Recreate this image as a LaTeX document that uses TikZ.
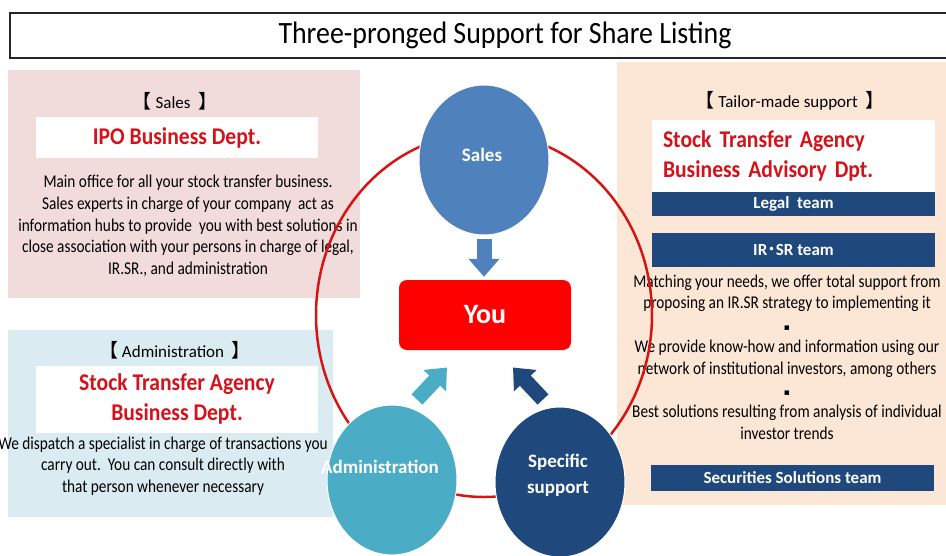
\documentclass[tikz,border=0pt]{standalone}
\usepackage{fontspec}
\setmainfont{Carlito}
\newfontfamily\narrowfont[FakeStretch=0.85]{Carlito}
\newfontfamily\titlefont[FakeStretch=0.9]{Carlito}
\newfontfamily\cjk{Noto Sans CJK JP}
\newfontfamily\symfont{DejaVu Sans}
\usetikzlibrary{shapes.geometric,arrows.meta}
\definecolor{pinkbg}{RGB}{241,219,219}
\definecolor{aquabg}{RGB}{218,236,242}
\definecolor{peachbg}{RGB}{252,231,215}
\definecolor{salesblue}{RGB}{79,129,189}
\definecolor{adminteal}{RGB}{75,172,198}
\definecolor{navy}{RGB}{31,73,125}
\definecolor{headred}{RGB}{212,18,28}
\definecolor{youred}{RGB}{255,0,0}
\definecolor{ringred}{RGB}{214,20,20}
\newcommand{\bracketed}[1]{{\cjk\fontsize{19}{19}\selectfont 【}\ #1\ \ {\cjk\fontsize{19}{19}\selectfont 】}}
\begin{document}
\begin{tikzpicture}[x=1pt,y=-1pt,
    bracket/.style={inner sep=0,font=\fontsize{17}{19}\selectfont},
    whitebox/.style={fill=white,inner sep=0,text=headred,font=\titlefont\bfseries\fontsize{24}{29.5}\selectfont},
    bodytext/.style={inner sep=0,align=center,font=\narrowfont\fontsize{18}{21.7}\selectfont},
    teambar/.style={fill=navy,inner sep=0,minimum width=283,text=white,font=\bfseries\fontsize{17}{18}\selectfont},
    bubble/.style={ellipse,draw=white,line width=1pt,minimum width=130,minimum height=150,inner sep=0},
    bubbletext/.style={inner sep=0,align=center,text=white,font=\bfseries\fontsize{19}{26}\selectfont},
    blockarrow/.style={line width=15pt,-{Triangle[width=30pt,length=18pt]}}]
\useasboundingbox (0,0) rectangle (946,555);
% panels
\fill[pinkbg] (8,70) rectangle (360,298);
\fill[aquabg] (8,330) rectangle (333,517);
\fill[peachbg] (617,62) rectangle (960,505);
\node[draw=black!85,line width=1.5pt,minimum width=990,minimum height=45,inner sep=0,
      font=\titlefont\fontsize{31}{32}\selectfont] (title) at (505,35.5) {Three-pronged Support for Share Listing};
% sales
\node[bracket] (saleshead) at (175,101) {\bracketed{Sales}};
\node[whitebox,minimum width=282,minimum height=41] (ipo) at (177,137.5) {IPO Business Dept.};
\node[bodytext] (salesbody) at (188,226) {Main office for all your stock transfer business.\\
  Sales experts in charge of your company\ \ act as\\
  information hubs to provide\ \ you with best solutions in\\
  close association with your persons in charge of legal,\\
  IR.SR., and administration};
% administration
\node[bracket] (adminhead) at (175,350) {\bracketed{Administration}};
\node[whitebox,minimum width=282,minimum height=67,align=center] (agency) at (177,399) {Stock Transfer Agency\\Business Dept.};
\node[bodytext] (adminbody) at (163,466) {We dispatch a specialist in charge of transactions you\\
  carry out.\ \ You can consult directly with\\
  that person whenever necessary};
% tailor-made
\node[bracket] (tailorhead) at (790,101) {\bracketed{Tailor-made support}};
\node[whitebox,minimum width=283,minimum height=72,text width=261,inner xsep=11,align=left] (advisory) at (793.5,156)
  {Stock Transfer Agency\\Business Advisory Dpt.};
\node[teambar,minimum height=24] (legal) at (793.5,204) {Legal\ \ team};
\node[teambar,minimum height=34] (irsr) at (793.5,250) {IR{\cjk ･}SR team};
\node[bodytext] (tailorbody) at (787,357) {Matching your needs, we offer total support from\\
  proposing an IR.SR strategy to implementing it\\
  {\symfont\fontsize{9}{9}\selectfont ▪}\\
  We provide know-how and information using our\\
  network of institutional investors, among others\\
  {\symfont\fontsize{9}{9}\selectfont ▪}\\
  Best solutions resulting from analysis of individual\\
  investor trends};
\node[teambar,minimum height=26] (securities) at (792.5,478) {Securities Solutions team};
% three prongs
\draw[ringred,line width=2.5pt] (484,315) ellipse [x radius=168,y radius=182];
\node[bubble,fill=salesblue] (sales) at (484,160) {};
\node[bubble,fill=adminteal] (admin) at (392,480) {};
\node[bubble,fill=navy] (specific) at (560,482) {};
\node[bubbletext] (salestext) at (482,155) {Sales};
\node[bubbletext] (admintext) at (380,467) {Administration};
\node[bubbletext] (specifictext) at (558,475) {Specific\\support};
\node[fill=youred,rounded corners=8pt,minimum width=172,minimum height=70,inner sep=0,
      text=white,font=\bfseries\fontsize{28}{30}\selectfont] (you) at (485,315) {You};
\draw[blockarrow,salesblue,shorten <=3pt,shorten >=3pt] (sales.south) -- (sales.south |- you.north);
\draw[blockarrow,adminteal] ([shift={(25,-5)}]admin.north) -- ++(30,-32);
\draw[blockarrow,navy] ([shift={(-17,-7)}]specific.north) -- ++(-30,-32);
\end{tikzpicture}
\end{document}
